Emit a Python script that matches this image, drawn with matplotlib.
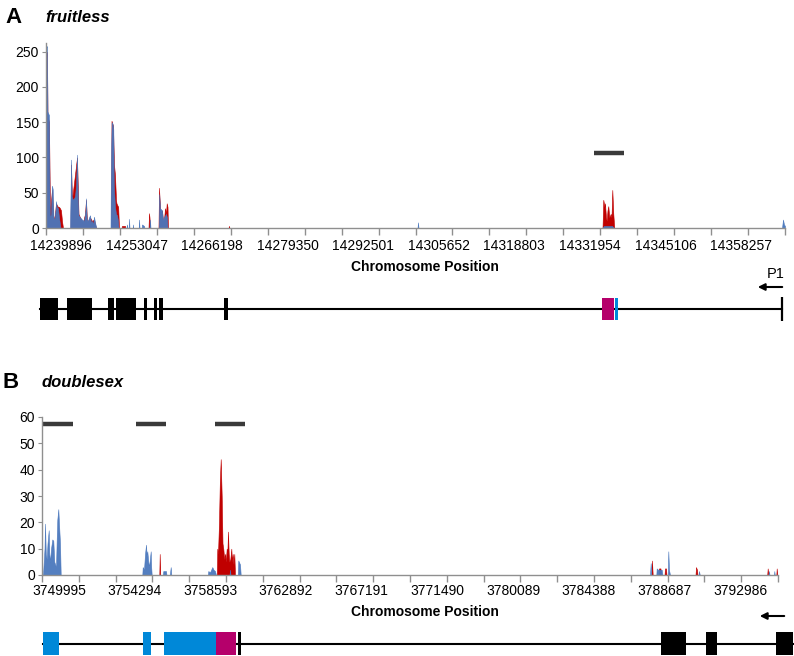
import numpy as np
import matplotlib.pyplot as plt

plt.rcParams['font.family'] = ['Liberation Sans', 'DejaVu Sans']

BLUE = '#4b78bd'
RED = '#c00000'
BAR = '#3a3a3a'
MAGENTA = '#b5006b'
EXON_BLUE = '#0088d8'
AXIS_GREY = '#8f8f8f'

# ---------------- fruitless ----------------
fru_xlim = (14237285, 14365916)
fru_ylim = (0, 262)
fru_yticks = [0, 50, 100, 150, 200, 250]
fru_xlabels = [14239896, 14253047, 14266198, 14279350, 14292501,
               14305652, 14318803, 14331954, 14345106, 14358257]

fru_blue_pos = [14237250, 14237285, 14237459, 14237546, 14237807, 14237894, 14237981,
                14238155, 14238329, 14238451, 14238590, 14238765, 14238939, 14239026,
                14239148, 14239374, 14239548, 14239722, 14239809,
                14241462, 14241549, 14241636, 14241758, 14241984, 14242158, 14242332,
                14242507, 14242681, 14242820, 14242942, 14243203, 14243551, 14243899,
                14244160, 14244247, 14244369, 14244595, 14244770, 14244944, 14245118,
                14245292, 14245466, 14245640, 14245814, 14245988, 14246075,
                14248512, 14248599, 14248721, 14248860, 14248999, 14249086, 14249295,
                14249469, 14249643, 14249817, 14249904,
                14251297, 14251384, 14251471, 14251680, 14251732, 14251819,
                14252376, 14252428, 14252480, 14253420, 14253473, 14253560,
                14253943, 14253995, 14254343, 14254430, 14255300, 14255387, 14255474,
                14256902, 14256989, 14257128, 14257476, 14257650, 14257825, 14258173,
                14258347, 14258434,
                14301948, 14302035, 14302122,
                14334062, 14334410, 14335803, 14336151,
                14365393, 14365567, 14365741, 14365915]
fru_blue_cov = [0, 255, 258, 165, 160, 40, 15,
                20, 60, 55, 15, 12, 25, 38,
                30, 28, 15, 5, 0,
                0, 40, 97, 45, 40, 42, 45,
                60, 104, 40, 18, 15, 12, 10,
                25, 42, 12, 10, 15, 18, 8,
                10, 5, 16, 8, 2, 0,
                0, 100, 150, 148, 140, 60, 30,
                20, 18, 10, 0,
                0, 5, 0, 0, 13, 0,
                0, 5, 0, 0, 12, 0,
                0, 5, 3, 0, 0, 12, 0,
                0, 48, 28, 25, 10, 15, 20,
                15, 0,
                0, 8, 0,
                0, 3, 3, 0,
                0, 12, 5, 3]

fru_red_pos = [14237250, 14237285, 14237459, 14237546, 14237807, 14237981, 14238329,
               14238590, 14238852, 14239026, 14239200, 14239374, 14239548, 14239722,
               14239896, 14240070, 14240244,
               14241549, 14241636, 14241810, 14242681, 14242820, 14242942, 14243203,
               14243725, 14244073, 14244247, 14244421, 14244944, 14245292, 14245640,
               14245988,
               14248599, 14248686, 14248947, 14249121, 14249295, 14249469, 14249556,
               14249730, 14249852, 14249991,
               14250427, 14250514, 14251036, 14251123,
               14255126, 14255213, 14255300, 14255387,
               14256867, 14256954, 14257128, 14257302, 14257476, 14257650, 14257825,
               14257999, 14258173, 14258295, 14258434, 14258521,
               14269051, 14269138, 14269225,
               14334149, 14334288, 14334497, 14334584, 14334758, 14334880, 14335020,
               14335159, 14335333, 14335490, 14335577, 14335716, 14335855, 14336029,
               14336203]
fru_red_cov = [0, 240, 250, 160, 150, 20, 55,
               10, 20, 35, 32, 30, 30, 28,
               25, 10, 0,
               0, 90, 40, 100, 58, 20, 15,
               8, 20, 40, 8, 15, 10, 12,
               0,
               0, 152, 145, 90, 75, 40, 35,
               32, 30, 0,
               0, 3, 3, 0,
               0, 21, 15, 0,
               0, 57, 30, 20, 25, 10, 12,
               28, 20, 35, 30, 0,
               0, 3, 0,
               0, 40, 30, 35, 15, 10, 25,
               31, 15, 18, 20, 15, 54, 20,
               0]

fru_bar_start = [14332670]
fru_bar_end = [14337892]
fru_bar_level = [107]

fru_gene_span = (14236241, 14365393)
fru_black_exons = [(14236241, 14239426), (14240888, 14245344), (14248025, 14249173),
                   (14249469, 14252950), (14254343, 14254813), (14256136, 14256658),
                   (14257006, 14257598), (14268268, 14269016)]
fru_magenta_exons = [(14334149, 14336186)]
fru_blue_exons = [(14336273, 14336795)]
fru_end_mark = 14365393
fru_arrow = (14365916, 14360694)

# ---------------- doublesex ----------------
dsx_xlim = (3749029, 3790834)
dsx_ylim = (0, 60)
dsx_yticks = [0, 10, 20, 30, 40, 50, 60]
dsx_xlabels = ['3749995', '3754294', '3758593', '3762892', '3767191',
               '3771490', '3780089', '3784388', '3788687', '3792986']
dsx_label_start = 3749995
dsx_label_step = 4299

dsx_blue_pos = [3749075, 3749103, 3749171, 3749200, 3749245, 3749296, 3749342, 3749410,
                3749444, 3749484, 3749541, 3749614, 3749671, 3749728, 3749779, 3749825,
                3749870, 3749898, 3749955, 3750006, 3750052, 3750092,
                3754726, 3754749, 3754823, 3754880, 3754937, 3754976, 3755010, 3755067,
                3755107, 3755204, 3755232, 3755260,
                3755891, 3755919, 3756073, 3756101, 3756288, 3756340, 3756374,
                3758447, 3758475, 3758572, 3758702, 3758771, 3758856, 3758913,
                3759679, 3759708, 3759736, 3760151, 3760179, 3760276, 3760316,
                3783564, 3783604, 3783638, 3783922, 3783944, 3784018, 3784228, 3784274,
                3784575, 3784603, 3784643, 3784700, 3786319, 3786347, 3786392,
                3790295, 3790323, 3790351, 3790607, 3790624, 3790652]
dsx_blue_cov = [0, 2, 10, 19.5, 8, 6, 12, 17,
                8, 5, 10, 13.5, 13, 5, 4, 3,
                15, 21, 25, 18, 12, 0,
                0, 3, 2, 8, 11.5, 7, 9, 5,
                3, 9, 3, 0,
                0, 1.5, 1.5, 0, 0, 3, 0,
                0, 1.5, 1, 3, 2, 1.5, 0,
                0, 2, 0, 0, 5.5, 4, 0,
                0, 4.5, 0, 0, 2.5, 2, 2, 0,
                0, 9, 2, 0, 0, 1.5, 0,
                0, 1.5, 0, 0, 1.5, 0]

dsx_red_pos = [3755692, 3755715, 3755743,
               3758958, 3758986, 3759026, 3759083, 3759128, 3759180, 3759236, 3759282,
               3759327, 3759378, 3759424, 3759469, 3759520, 3759554, 3759594, 3759634,
               3759668, 3759725, 3759782, 3759821, 3759861, 3759907, 3759952, 3759992,
               3783649, 3783677, 3783717, 3784047, 3784075, 3784160, 3784189,
               3784387, 3784416, 3784473, 3784501, 3786148, 3786177, 3786233, 3786262,
               3790221, 3790249, 3790283, 3790738, 3790760, 3790789]
dsx_red_cov = [0, 8, 0,
               0, 10, 8, 20, 35, 44, 30, 12,
               10, 6, 8, 5, 10, 8, 16.5, 8,
               5, 6, 10, 5, 8, 4, 8, 0,
               0, 5.5, 0, 0, 2.5, 2.5, 0,
               0, 2.5, 2.5, 0, 0, 3, 2, 0,
               0, 2.5, 0, 0, 2.5, 0]

dsx_bar_start = [3749069, 3754369, 3758856]
dsx_bar_end = [3750773, 3756073, 3760560]
dsx_bar_level = [57.3, 57.3, 57.3]

dsx_gene_span = (3749069, 3791686)
dsx_black_exons = [(3760179, 3760333), (3784177, 3785609), (3786762, 3787341),
                   (3790704, 3791686)]
dsx_magenta_exons = [(3758913, 3760049)]
dsx_blue_exons = [(3749069, 3750012), (3754783, 3755221), (3755976, 3758913)]
dsx_arrow = (3791345, 3789641)


def style_coverage(ax, xlim, ylim, yticks, label_pos, label_txt, pad):
    ax.set_xlim(*xlim)
    ax.set_ylim(*ylim)
    for side in ('top', 'right'):
        ax.spines[side].set_visible(False)
    for side in ('left', 'bottom'):
        ax.spines[side].set_color(AXIS_GREY)
        ax.spines[side].set_linewidth(1)
        ax.spines[side].set_zorder(5)
    ax.set_yticks(yticks)
    ax.tick_params(axis='y', length=3, color=AXIS_GREY, labelsize=10, pad=2)
    ax.set_xticks(label_pos)
    ax.set_xticklabels(label_txt)
    ax.set_xticks(np.linspace(xlim[0], xlim[1], 21), minor=True)
    ax.tick_params(axis='x', which='major', length=0, labelsize=10, pad=pad)
    ax.tick_params(axis='x', which='minor', length=5, color=AXIS_GREY, width=1)


def draw_tracks(ax, red_pos, red_cov, blue_pos, blue_cov, bs, be, bl):
    ax.fill_between(red_pos, red_cov, 0, color=RED, lw=0.4, edgecolor=RED, zorder=2)
    ax.fill_between(blue_pos, blue_cov, 0, color=BLUE, lw=0.4, edgecolor=BLUE,
                    alpha=0.95, zorder=3)
    ax.hlines(bl, bs, be, color=BAR, lw=3.2, zorder=4)


def draw_gene(ax, xlim, span, black, magenta, blue, half):
    ax.set_xlim(*xlim)
    ax.set_ylim(-1, 1)
    ax.axis('off')
    ax.plot(span, [0, 0], color='black', lw=1.5, clip_on=False, zorder=1)
    for exons, col in ((black, 'black'), (magenta, MAGENTA), (blue, EXON_BLUE)):
        ax.broken_barh([(s, e - s) for s, e in exons], (-half, 2 * half),
                       facecolors=col, edgecolor='none', clip_on=False, zorder=2)


fig = plt.figure(figsize=(7.94, 6.56), dpi=100)
W, H = 794.0, 656.0

# panel A
ax_a = fig.add_axes([46 / W, 1 - 228 / H, 739 / W, 184.8 / H])
draw_tracks(ax_a, fru_red_pos, fru_red_cov, fru_blue_pos, fru_blue_cov,
            fru_bar_start, fru_bar_end, fru_bar_level)
style_coverage(ax_a, fru_xlim, fru_ylim, fru_yticks, fru_xlabels,
               [str(v) for v in fru_xlabels], 8)
ax_a.set_xlabel('Chromosome Position', fontsize=10, fontweight='bold')
ax_a.xaxis.set_label_coords((425 - 46) / 739, (228 - 260) / 184.8)

gene_a = fig.add_axes([46 / W, 1 - 329 / H, 739 / W, 40 / H])
draw_gene(gene_a, fru_xlim, fru_gene_span, fru_black_exons, fru_magenta_exons,
          fru_blue_exons, 0.55)
gene_a.vlines(fru_end_mark, -0.6, 0.6, color='black', lw=1.6, clip_on=False)
gene_a.annotate('', xy=(fru_arrow[1], 1.1), xytext=(fru_arrow[0], 1.1),
                arrowprops=dict(arrowstyle='-|>', color='black', lw=1.5,
                                mutation_scale=10), annotation_clip=False)
gene_a.text(fru_arrow[0], 1.4, 'P1', fontsize=10.5, ha='right', va='bottom',
            clip_on=False)

fig.text(5 / W, 1 - 23 / H, 'A', fontsize=16, fontweight='bold')
fig.text(45 / W, 1 - 22 / H, 'fruitless', fontsize=12, fontweight='bold',
         fontstyle='italic')

# panel B
ax_b = fig.add_axes([42 / W, 1 - 575 / H, 736 / W, 158 / H])
draw_tracks(ax_b, dsx_red_pos, dsx_red_cov, dsx_blue_pos, dsx_blue_cov,
            dsx_bar_start, dsx_bar_end, dsx_bar_level)
dsx_label_pos = dsx_label_start + dsx_label_step * np.arange(len(dsx_xlabels))
style_coverage(ax_b, dsx_xlim, dsx_ylim, dsx_yticks, dsx_label_pos, dsx_xlabels, 6.5)
ax_b.set_xlabel('Chromosome Position', fontsize=10, fontweight='bold')
ax_b.xaxis.set_label_coords((425 - 42) / 736, (575 - 605) / 158)

gene_b = fig.add_axes([42 / W, 1 - 663.5 / H, 736 / W, 40 / H])
draw_gene(gene_b, dsx_xlim, dsx_gene_span, dsx_black_exons, dsx_magenta_exons,
          dsx_blue_exons, 0.575)
gene_b.annotate('', xy=(dsx_arrow[1], 1.375), xytext=(dsx_arrow[0], 1.375),
                arrowprops=dict(arrowstyle='-|>', color='black', lw=1.5,
                                mutation_scale=10), annotation_clip=False)

fig.text(3 / W, 1 - 388 / H, 'B', fontsize=16, fontweight='bold')
fig.text(42 / W, 1 - 387 / H, 'doublesex', fontsize=12, fontweight='bold',
         fontstyle='italic')

fig.savefig('out.png', dpi=100)
